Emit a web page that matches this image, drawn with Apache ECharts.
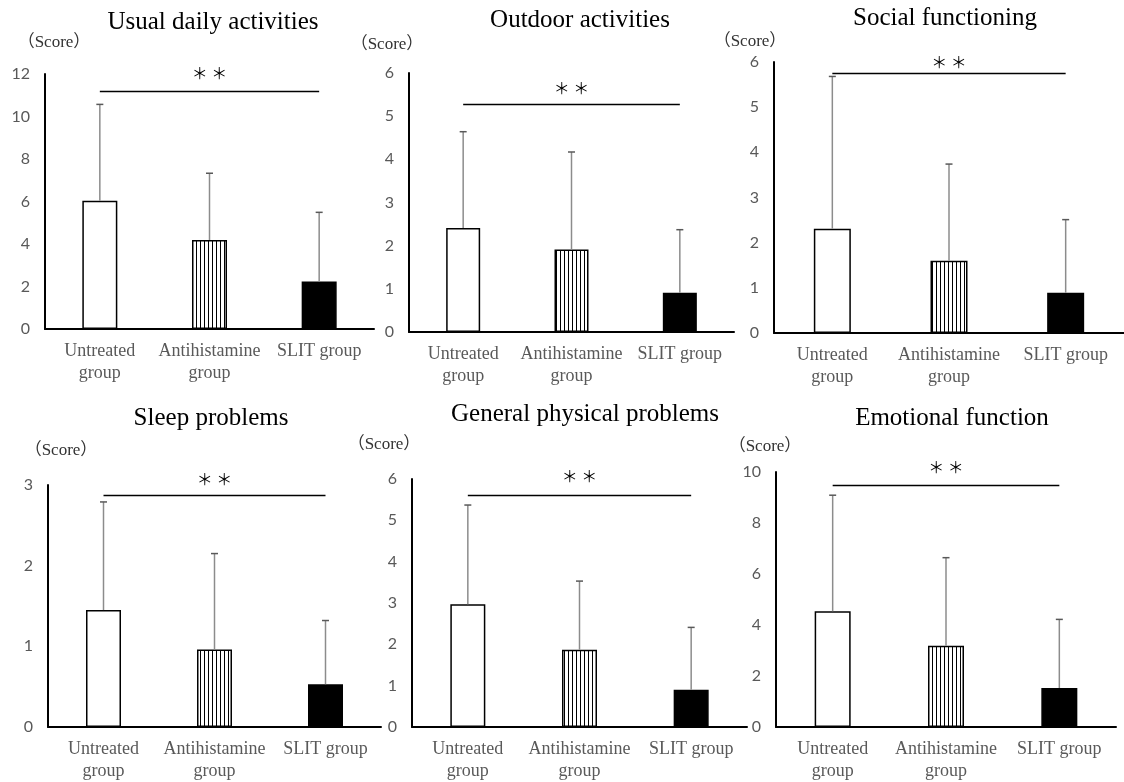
<!DOCTYPE html>
<html>
<head>
<meta charset="utf-8">
<script src="https://cdn.jsdelivr.net/npm/echarts@6/dist/echarts.min.js"></script>
<style>
html,body{margin:0;padding:0;background:#fff;}
#chart{width:1124px;height:782px;}
</style>
</head>
<body>
<div id="chart"></div>
<script>
// ---- data ----
const categories = ['Untreated\ngroup', 'Antihistamine\ngroup', 'SLIT group'];
const panelTitles = ['Usual daily activities', 'Outdoor activities', 'Social functioning',
                     'Sleep problems', 'General physical problems', 'Emotional function'];
const yMax = [12, 6, 6, 3, 6, 10];
const yInterval = [2, 1, 1, 1, 1, 2];
// mean scores per panel (Untreated, Antihistamine, SLIT)
const meanUsual    = [6.04, 4.19, 2.23];
const meanOutdoor  = [2.41, 1.91, 0.91];
const meanSocial   = [2.31, 1.60, 0.89];
const meanSleep    = [1.45, 0.96, 0.53];
const meanPhysical = [2.97, 1.87, 0.90];
const meanEmotion  = [4.54, 3.19, 1.53];
// upper end of the error bars (mean + SD)
const upperUsual    = [10.57, 7.33, 5.49];
const upperOutdoor  = [4.64, 4.17, 2.37];
const upperSocial   = [5.68, 3.74, 2.51];
const upperSleep    = [2.79, 2.15, 1.32];
const upperPhysical = [5.37, 3.53, 2.41];
const upperEmotion  = [9.09, 6.64, 4.22];
// height of the significance bracket
const sigLevel = [11.2, 5.27, 5.76, 2.87, 5.61, 9.5];
const sigMark = '＊ ＊';
const unitLabel = '（Score）';

const means = [meanUsual, meanOutdoor, meanSocial, meanSleep, meanPhysical, meanEmotion];
const uppers = [upperUsual, upperOutdoor, upperSocial, upperSleep, upperPhysical, upperEmotion];

// ---- layout (pixels) ----
const grids = [
  {left: 45,  top: 74,  width: 329, height: 255},
  {left: 409, top: 73,  width: 325, height: 259},
  {left: 774, top: 62,  width: 354, height: 271},
  {left: 48,  top: 485, width: 333, height: 242},
  {left: 412, top: 479, width: 335, height: 248},
  {left: 776, top: 472, width: 340, height: 255}
];
const barWidths = [35, 34, 37, 35, 35, 36];
const titlePos = [[213, 22], [580, 20], [945, 18], [211, 418], [585, 414], [952, 418]];
const unitPos = [[54, 43], [387, 45], [750, 42], [61, 451], [384, 445], [765, 447]];
const starDist = [10, 9, 3, 9, 11, 10];

// striped pattern
const pc = document.createElement('canvas');
pc.width = 4; pc.height = 4;
const pctx = pc.getContext('2d');
pctx.fillStyle = '#fff'; pctx.fillRect(0, 0, 4, 4);
pctx.fillStyle = '#000'; pctx.fillRect(0, 0, 1, 4);
const stripe = {image: pc, repeat: 'repeat'};
const fills = ['#ffffff', stripe, '#000000'];

const chart = echarts.init(document.getElementById('chart'), null, {renderer: 'canvas'});

const grid = [], xAxis = [], yAxis = [], series = [], graphic = [];
for (let i = 0; i < 6; i++) {
  grid.push(Object.assign({containLabel: false}, grids[i]));
  xAxis.push({
    type: 'category', gridIndex: i, data: categories,
    axisLine: {lineStyle: {color: '#000', width: 2}},
    axisTick: {show: false},
    axisLabel: {interval: 0, color: '#595959', fontFamily: 'Liberation Serif', fontSize: 18,
                lineHeight: 22, margin: 11}
  });
  yAxis.push({
    type: 'value', gridIndex: i, min: 0, max: yMax[i], interval: yInterval[i],
    axisLine: {show: true, lineStyle: {color: '#000', width: 2}},
    axisTick: {show: false},
    splitLine: {show: false},
    axisLabel: {color: '#595959', fontFamily: 'Lato', fontSize: 16, margin: 15}
  });
  series.push({
    type: 'bar', xAxisIndex: i, yAxisIndex: i, barWidth: barWidths[i],
    data: means[i].map((v, k) => ({value: v, itemStyle: {color: fills[k]}})),
    itemStyle: {borderColor: '#000', borderWidth: 1.5},
    markLine: {
      silent: true, symbol: ['none', 'none'],
      lineStyle: {color: '#000', width: 1.3, type: 'solid'},
      label: {show: true, position: 'insideMiddleTop', distance: starDist[i], formatter: sigMark,
              color: '#000', fontSize: 16, fontFamily: 'Noto Sans CJK JP'},
      data: [[{coord: [0, sigLevel[i]]}, {coord: [2, sigLevel[i]]}]]
    },
    z: 2
  });
  series.push({
    type: 'custom', xAxisIndex: i, yAxisIndex: i,
    data: means[i].map((v, k) => [k, v, uppers[i][k]]),
    renderItem: function (params, api) {
      const base = api.coord([api.value(0), api.value(1)]);
      const top = api.coord([api.value(0), api.value(2)]);
      return {
        type: 'group',
        children: [
          {type: 'line', shape: {x1: base[0], y1: base[1], x2: top[0], y2: top[1]},
           style: {stroke: '#8c8c8c', lineWidth: 1.5}},
          {type: 'line', shape: {x1: top[0] - 3.5, y1: top[1], x2: top[0] + 3.5, y2: top[1]},
           style: {stroke: '#595959', lineWidth: 1.5}}
        ]
      };
    },
    z: 3
  });
  graphic.push({
    type: 'text', x: titlePos[i][0], y: titlePos[i][1],
    style: {text: panelTitles[i], fill: '#000', font: '25px "Liberation Serif"',
            align: 'center', verticalAlign: 'middle', textAlign: 'center', textVerticalAlign: 'middle'}
  });
  graphic.push({
    type: 'text', x: unitPos[i][0], y: unitPos[i][1],
    style: {text: unitLabel, fill: '#333', font: '17px "Liberation Serif", "Noto Sans CJK JP"',
            align: 'center', verticalAlign: 'middle', textAlign: 'center', textVerticalAlign: 'middle'}
  });
}

chart.setOption({
  animation: false,
  backgroundColor: '#fff',
  grid: grid, xAxis: xAxis, yAxis: yAxis, series: series, graphic: graphic
});
</script>
</body>
</html>
